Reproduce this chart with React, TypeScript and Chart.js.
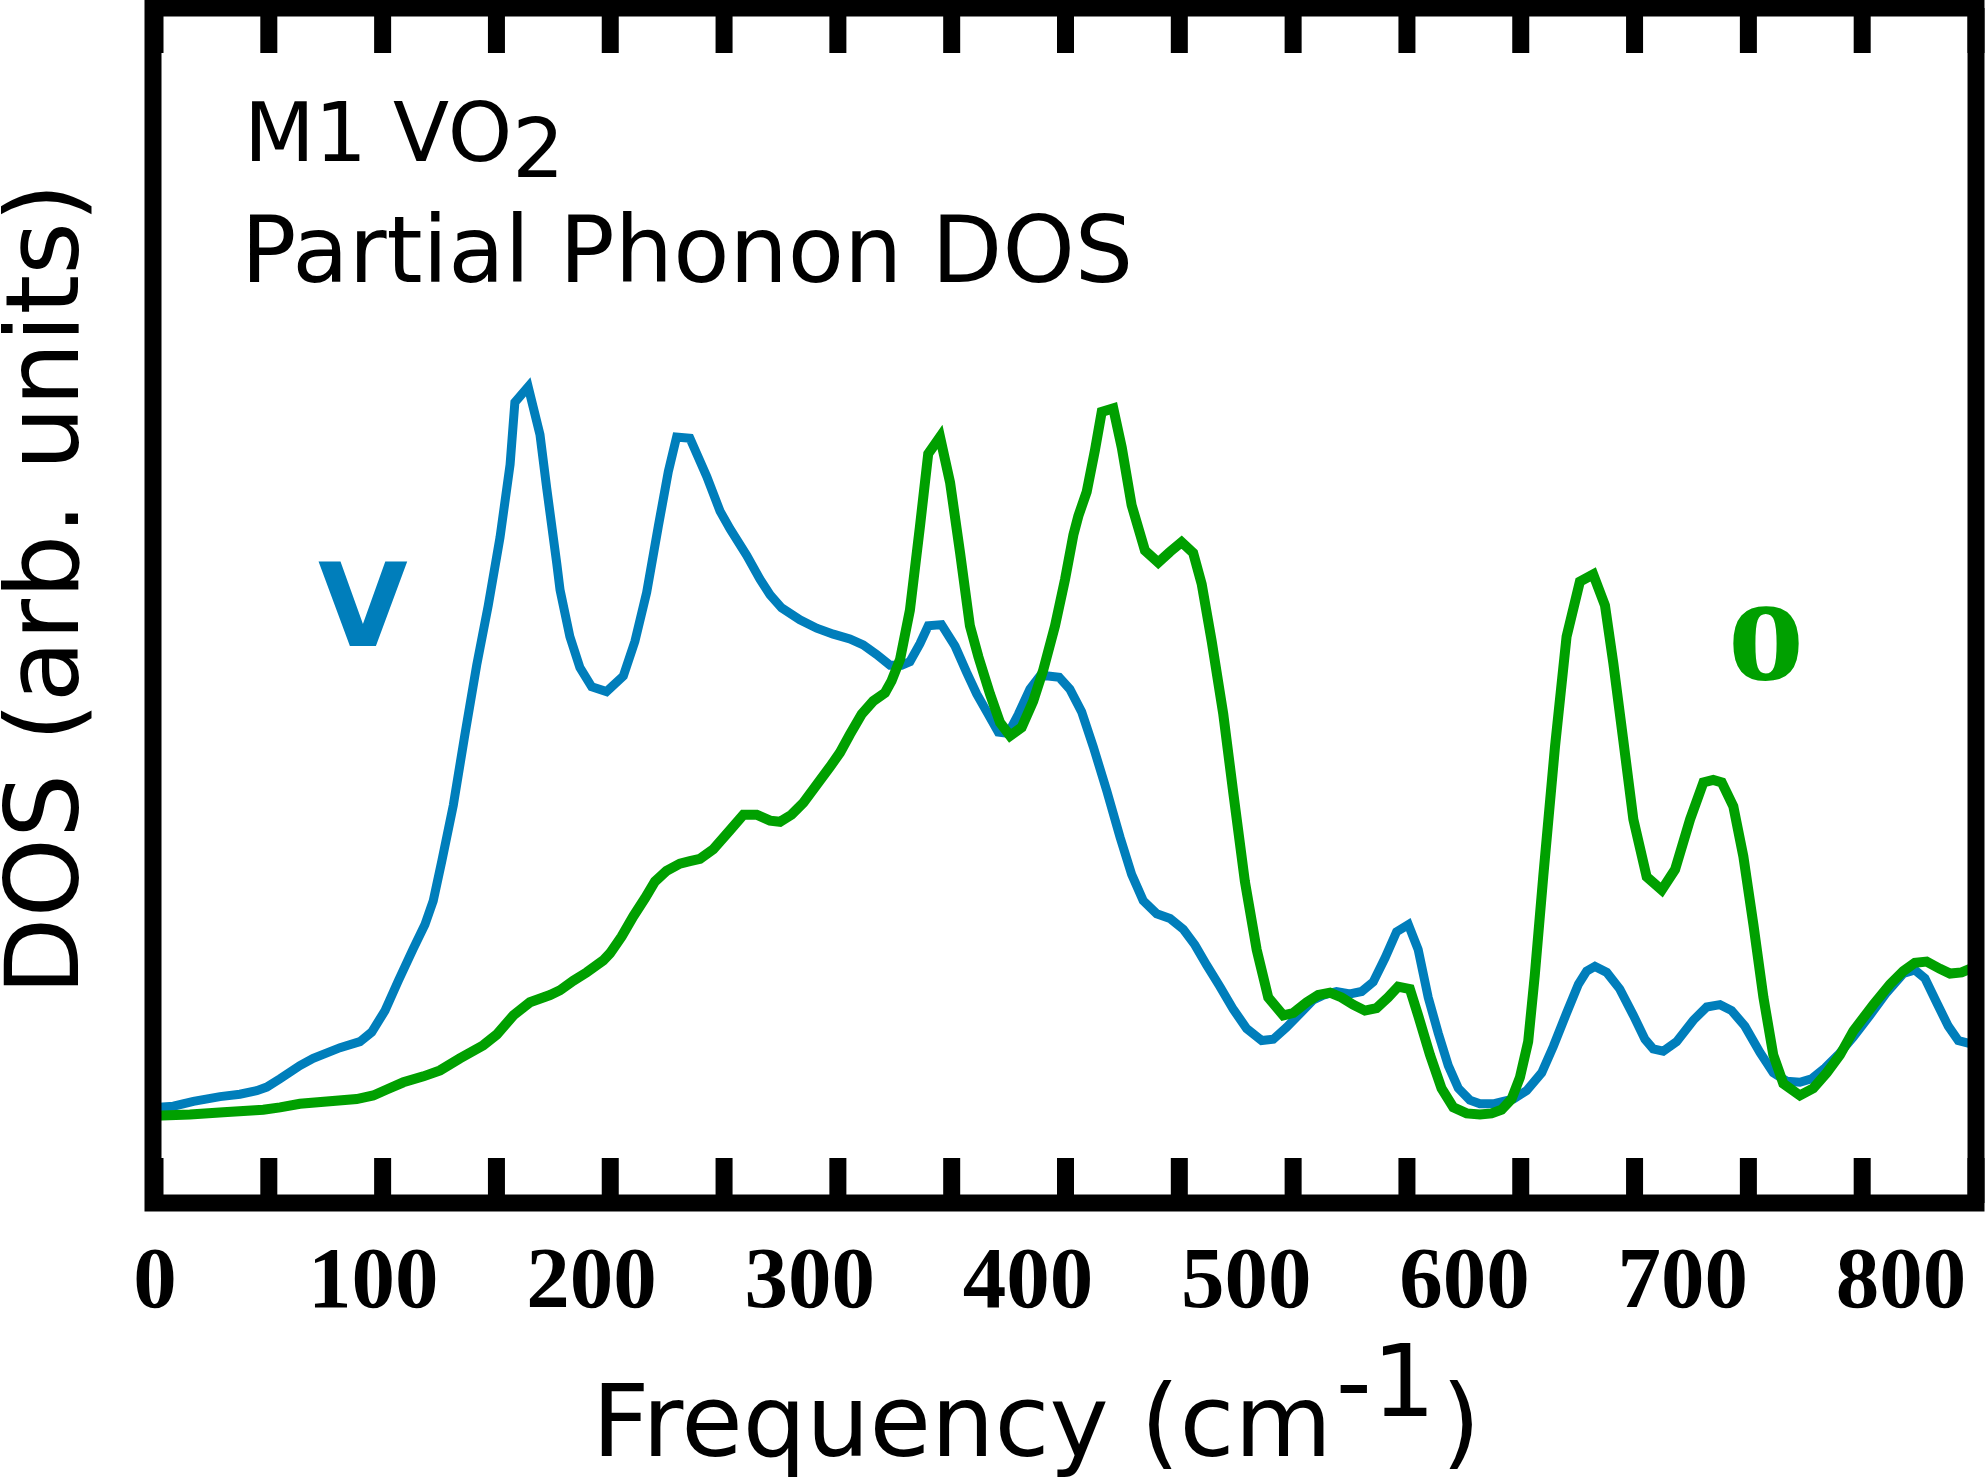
import React, { useEffect, useRef } from "react";
import { Chart, registerables } from "chart.js";

Chart.register(...registerables);

// V (vanadium) partial phonon DOS
const vFreq = [0, 8.4, 17.6, 29.8, 38.9, 46.6, 51.2, 57.3, 66.4, 72.5, 84.8, 93.9, 99.3, 105.4, 111.5, 118.4, 123.7, 127.5, 131.4, 136.7, 142.0, 147.4, 152.7, 158.1, 162.7, 164.9, 171.0, 176.4, 179.5, 184.1, 185.6, 190.1, 194.7, 200.1, 206.9, 214.6, 219.9, 225.3, 230.6, 235.2, 239.0, 245.1, 252.8, 258.9, 263.5, 271.1, 277.2, 281.8, 287.1, 295.5, 303.2, 310.8, 318.4, 324.5, 330.7, 336.8, 342.1, 345.9, 350.5, 354.3, 360.4, 366.6, 371.9, 376.5, 381.8, 386.4, 391.0, 395.6, 400.9, 405.5, 409.3, 414.3, 419.2, 424.6, 429.9, 436.1, 442.2, 447.5, 452.8, 459.0, 465.1, 471.2, 476.5, 481.9, 488.0, 494.1, 500.2, 507.1, 512.4, 518.5, 525.4, 530.7, 535.3, 541.4, 547.5, 552.9, 558.2, 563.6, 568.9, 574.3, 578.8, 583.4, 588.0, 592.6, 597.2, 602.5, 607.1, 613.2, 617.8, 622.4, 628.5, 635.4, 640.7, 646.8, 652.2, 656.0, 659.8, 665.2, 671.2, 677.4, 682.7, 686.5, 691.1, 697.2, 704.9, 711.0, 717.1, 722.4, 728.5, 735.4, 741.5, 747.6, 753.7, 759.1, 765.2, 771.3, 778.2, 785.8, 793.4, 801.1, 806.4, 811.0, 816.3, 821.7, 826.3, 834.4];
const vDos = [8.0, 8.1, 8.5, 8.9, 9.1, 9.4, 9.7, 10.4, 11.5, 12.1, 13.0, 13.5, 14.3, 16.1, 18.6, 21.3, 23.3, 25.3, 28.6, 33.3, 39.2, 45.0, 50.0, 55.7, 61.8, 67.0, 68.3, 64.3, 59.8, 53.5, 51.3, 47.4, 44.8, 43.2, 42.8, 44.1, 47.0, 51.1, 56.6, 61.2, 64.1, 64.0, 60.8, 57.9, 56.4, 54.2, 52.2, 50.9, 49.8, 48.8, 48.1, 47.6, 47.2, 46.7, 45.9, 45.0, 45.0, 45.3, 46.8, 48.3, 48.4, 46.6, 44.4, 42.6, 40.9, 39.4, 39.3, 40.9, 43.0, 44.1, 44.1, 44.0, 43.0, 41.1, 38.2, 34.5, 30.6, 27.5, 25.3, 24.2, 23.8, 22.9, 21.6, 19.9, 18.1, 16.2, 14.6, 13.6, 13.7, 14.7, 16.0, 17.0, 17.4, 17.7, 17.5, 17.7, 18.5, 20.5, 22.7, 23.3, 21.2, 17.2, 14.2, 11.5, 9.6, 8.6, 8.3, 8.3, 8.5, 8.7, 9.4, 10.9, 13.1, 15.9, 18.3, 19.4, 19.8, 19.3, 17.9, 15.7, 13.7, 12.9, 12.7, 13.5, 15.3, 16.4, 16.6, 16.1, 14.8, 12.6, 10.9, 10.2, 10.1, 10.4, 11.3, 12.4, 13.9, 15.7, 17.6, 19.2, 19.5, 18.8, 16.8, 14.8, 13.6, 13.2];

// O (oxygen) partial phonon DOS
const oFreq = [0, 16.0, 31.3, 49.6, 57.3, 66.4, 78.7, 92.4, 100.0, 106.2, 113.8, 123.0, 130.6, 139.7, 150.4, 156.6, 164.2, 171.8, 181.0, 185.6, 191.7, 197.8, 205.4, 208.5, 213.8, 219.2, 224.5, 229.1, 234.4, 240.5, 245.1, 249.7, 255.8, 263.5, 269.6, 275.7, 281.8, 286.4, 291.7, 297.1, 303.2, 309.3, 313.9, 318.4, 323.8, 329.1, 334.5, 337.5, 341.4, 345.9, 350.5, 354.3, 359.7, 364.3, 368.9, 373.4, 377.3, 382.6, 387.2, 391.8, 397.1, 402.4, 407.0, 412.4, 417.0, 420.8, 423.1, 426.9, 430.7, 433.8, 439.1, 443.0, 447.5, 453.6, 459.7, 465.1, 470.4, 475.7, 479.6, 484.2, 489.5, 494.1, 499.4, 504.8, 510.1, 517.0, 521.6, 527.7, 533.0, 538.4, 543.7, 549.0, 554.4, 559.7, 565.0, 569.6, 575.0, 578.8, 584.2, 589.5, 594.9, 601.0, 607.1, 612.4, 617.0, 621.6, 625.4, 629.2, 632.2, 636.1, 641.5, 646.8, 652.9, 659.0, 664.4, 668.2, 672.8, 677.4, 683.5, 690.4, 696.5, 703.4, 709.5, 714.0, 717.9, 723.2, 727.8, 732.4, 737.0, 741.5, 746.1, 753.7, 759.8, 766.0, 772.1, 778.2, 787.4, 795.0, 801.1, 806.4, 811.8, 817.9, 822.5, 827.8, 834.4];
const oDos = [7.3, 7.4, 7.6, 7.8, 8.0, 8.3, 8.5, 8.7, 9.0, 9.5, 10.1, 10.6, 11.1, 12.1, 13.2, 14.1, 15.7, 16.8, 17.4, 17.8, 18.6, 19.3, 20.3, 20.9, 22.3, 24.0, 25.5, 26.9, 27.8, 28.4, 28.6, 28.8, 29.6, 31.2, 32.5, 32.5, 32.0, 31.9, 32.5, 33.5, 35.0, 36.5, 37.7, 39.2, 40.9, 42.0, 42.7, 43.7, 45.5, 49.6, 56.6, 62.7, 64.1, 60.3, 54.4, 48.3, 45.7, 42.6, 40.2, 39.1, 39.8, 42.0, 44.6, 48.3, 52.2, 55.9, 57.5, 59.5, 63.0, 66.2, 66.5, 63.2, 58.4, 54.6, 53.6, 54.5, 55.3, 54.4, 51.8, 47.0, 40.9, 34.3, 26.9, 21.2, 17.2, 15.7, 15.9, 16.8, 17.4, 17.6, 17.2, 16.6, 16.1, 16.3, 17.2, 18.1, 17.9, 15.7, 12.4, 9.6, 8.0, 7.5, 7.4, 7.5, 7.8, 8.7, 10.5, 13.5, 19.0, 27.3, 38.2, 47.4, 52.0, 52.6, 50.0, 45.2, 38.7, 32.1, 27.3, 26.2, 27.9, 32.1, 35.2, 35.4, 35.2, 33.2, 29.0, 23.3, 17.2, 12.4, 10.0, 9.0, 9.6, 10.9, 12.4, 14.4, 16.6, 18.3, 19.4, 20.1, 20.2, 19.6, 19.2, 19.3, 19.8];

// Axis definitions
const X_LABEL_MAX = 834.4; // labelled frequency axis (labels 0..800)
const X_LABEL_STEP = 100;
const X_TICK_MAX = 800; // frame tick-mark axis
const X_TICK_STEP = 50;
const Y_MAX = 100;

const TITLE_LINE1 = "M1 VO";
const TITLE_SUB = "2";
const TITLE_LINE2 = "Partial Phonon DOS";
const X_TITLE = "Frequency (cm";
const X_TITLE_SUP = "-1";
const X_TITLE_END = ")";
const Y_TITLE = "DOS (arb. units)";
const V_LABEL = "V";
const O_LABEL = "o";

const BLUE = "#007EBB";
const GREEN = "#00A000";

const framePlugin = {
  id: "framePlugin",
  afterDraw(chart: any) {
    const ctx = chart.ctx;
    const area = chart.chartArea;
    const xt = chart.scales.xt;
    ctx.save();
    // frame
    const lw = 17;
    const left = area.left - 2;
    const right = area.right;
    const top = area.top;
    const bottom = area.bottom;
    ctx.strokeStyle = "#000";
    ctx.lineWidth = lw;
    ctx.lineJoin = "miter";
    ctx.strokeRect(left, top, right - left, bottom - top);
    // inward tick marks
    ctx.fillStyle = "#000";
    for (let v = 0; v <= X_TICK_MAX; v += X_TICK_STEP) {
      const px = xt.getPixelForValue(v);
      ctx.fillRect(px - lw / 2, top, lw, 45);
      ctx.fillRect(px - lw / 2, bottom - 45, lw, 45);
    }

    // annotation texts
    ctx.fillStyle = "#000";
    ctx.textAlign = "left";
    ctx.textBaseline = "alphabetic";
    ctx.font = '82px "DejaVu Sans"';
    ctx.fillText(TITLE_LINE1, 244, 161);
    const w1 = ctx.measureText(TITLE_LINE1).width;
    ctx.fillText(TITLE_SUB, 244 + w1, 177);
    ctx.font = '92px "DejaVu Sans"';
    ctx.fillText(TITLE_LINE2, 241, 282);

    // species labels
    ctx.textAlign = "center";
    ctx.fillStyle = BLUE;
    ctx.font = 'bold 116px "DejaVu Sans"';
    ctx.fillText(V_LABEL, 363, 646);
    ctx.fillStyle = GREEN;
    ctx.font = 'bold 154px "Liberation Serif"';
    ctx.fillText(O_LABEL, 1766, 679);

    // x-axis title with superscript
    ctx.fillStyle = "#000";
    ctx.textAlign = "left";
    ctx.font = '100px "DejaVu Sans"';
    const tx = 592;
    ctx.fillText(X_TITLE, tx, 1456);
    const a = ctx.measureText(X_TITLE).width;
    ctx.fillText(X_TITLE_SUP, tx + a + 4, 1416);
    const b = ctx.measureText(X_TITLE_SUP).width;
    ctx.fillText(X_TITLE_END, tx + a + b + 10, 1456);

    // y-axis title (rotated)
    ctx.save();
    ctx.translate(78, 589);
    ctx.rotate(-Math.PI / 2);
    ctx.textAlign = "center";
    ctx.font = '101px "DejaVu Sans"';
    ctx.fillText(Y_TITLE, 0, 0);
    ctx.restore();

    ctx.restore();
  },
};

export default function App() {
  const canvasRef = useRef<HTMLCanvasElement | null>(null);

  useEffect(() => {
    const canvas = canvasRef.current;
    if (!canvas) return;
    const chart = new Chart(canvas, {
      type: "line",
      data: {
        datasets: [
          {
            label: "O",
            data: oFreq.map((x, i) => ({ x, y: oDos[i] })),
            borderColor: GREEN,
            borderWidth: 10,
            pointRadius: 0,
            tension: 0,
            fill: false,
            xAxisID: "x",
            yAxisID: "y",
          },
          {
            label: "V",
            data: vFreq.map((x, i) => ({ x, y: vDos[i] })),
            borderColor: BLUE,
            borderWidth: 9,
            pointRadius: 0,
            tension: 0,
            fill: false,
            xAxisID: "x",
            yAxisID: "y",
          },
        ],
      },
      options: {
        responsive: false,
        animation: false,
        devicePixelRatio: 1,
        layout: { padding: { top: 8, right: 9, left: 155, bottom: 0 } },
        plugins: {
          legend: { display: false },
          tooltip: { enabled: false },
        },
        scales: {
          x: {
            type: "linear",
            position: "bottom",
            min: 0,
            max: X_LABEL_MAX,
            grid: { display: false, drawTicks: false },
            border: { display: false },
            ticks: {
              stepSize: X_LABEL_STEP,
              includeBounds: false,
              autoSkip: false,
              maxRotation: 0,
              minRotation: 0,
              padding: 38,
              color: "#000",
              font: { family: "Liberation Serif", weight: "bold", size: 87, lineHeight: 1 },
            },
            afterFit: (s: any) => {
              s.height = 276;
              s.paddingLeft = 0;
              s.paddingRight = 0;
            },
          },
          xt: {
            type: "linear",
            position: "bottom",
            display: false,
            min: 0,
            max: X_TICK_MAX,
            ticks: { stepSize: X_TICK_STEP },
          },
          y: {
            type: "linear",
            position: "left",
            display: false,
            min: 0,
            max: Y_MAX,
          },
        },
      },
      plugins: [framePlugin],
    } as any);
    return () => chart.destroy();
  }, []);

  return (
    <div style={{ position: "fixed", left: 0, top: 0, width: 1985, height: 1479, background: "#fff" }}>
      <canvas ref={canvasRef} width={1985} height={1479} style={{ display: "block" }} />
    </div>
  );
}
